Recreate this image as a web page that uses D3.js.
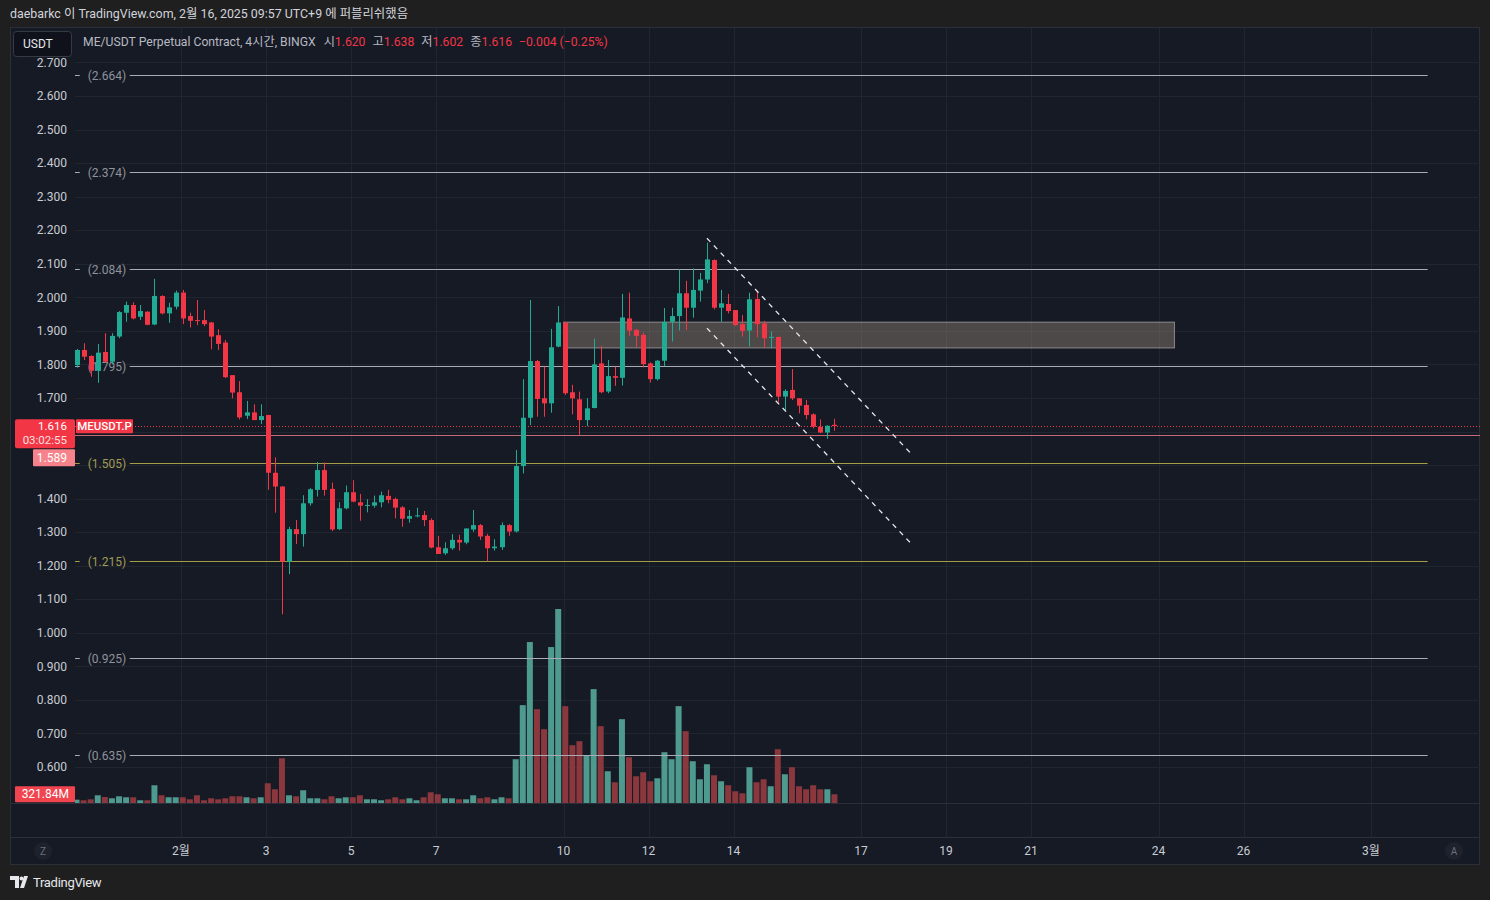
<!DOCTYPE html>
<html><head><meta charset="utf-8">
<script src="https://cdn.jsdelivr.net/npm/d3@7"></script>
<style>
html,body{margin:0;padding:0;background:#1f1f1f;}
svg{display:block;font-family:Roboto,"Noto Sans CJK KR",sans-serif;}
</style></head><body>
<svg id="c" width="1490" height="900"></svg>
<script>
// ---- data (times are KST, stored as UTC clock values) ----
const firstCandle = "2025-01-29T13:00:00Z";
const stepHours = 4;
const opens = [1.798,1.843,1.825,1.781,1.837,1.808,1.883,1.954,1.977,1.942,
1.957,1.919,2.004,1.952,1.972,2.014,1.944,1.932,1.932,1.925,
1.887,1.865,1.768,1.717,1.647,1.657,1.634,1.649,1.477,1.436,
1.212,1.309,1.294,1.386,1.426,1.485,1.429,1.309,1.371,1.419,
1.389,1.379,1.379,1.389,1.408,1.399,1.374,1.340,1.348,1.351,
1.336,1.255,1.237,1.252,1.277,1.269,1.308,1.321,1.289,1.252,
1.255,1.321,1.302,1.497,1.641,1.810,1.699,1.684,1.853,1.925,
1.717,1.696,1.634,1.670,1.803,1.719,1.765,1.760,1.937,1.903,
1.888,1.803,1.756,1.811,1.927,1.944,2.012,1.969,2.020,2.053,
2.111,1.969,1.980,1.962,1.920,1.901,1.995,1.922,1.879,1.882,
1.704,1.724,1.699,1.679,1.651,1.614,1.597,1.620];
const highs = [1.846,1.863,1.827,1.861,1.893,1.893,1.959,1.987,1.985,1.977,
1.959,2.055,2.006,1.984,2.020,2.022,1.954,1.992,1.962,1.927,
1.905,1.873,1.768,1.750,1.691,1.681,1.681,1.650,1.523,1.437,
1.316,1.336,1.410,1.431,1.509,1.508,1.448,1.389,1.439,1.455,
1.414,1.398,1.409,1.421,1.426,1.403,1.378,1.366,1.373,1.363,
1.341,1.289,1.270,1.294,1.292,1.311,1.366,1.324,1.295,1.279,
1.329,1.324,1.545,1.756,1.992,1.813,1.793,1.906,1.974,1.925,
1.739,1.719,1.699,1.876,1.855,1.813,1.793,2.010,2.014,1.905,
1.895,1.806,1.813,1.968,1.969,2.083,2.049,2.086,2.073,2.163,
2.113,2.022,2.010,1.962,1.947,2.014,2.015,1.930,1.898,1.882,
1.726,1.786,1.699,1.694,1.654,1.636,1.619,1.638];
const lows = [1.790,1.813,1.763,1.745,1.805,1.800,1.878,1.927,1.934,1.932,
1.917,1.917,1.949,1.924,1.964,1.920,1.910,1.917,1.914,1.845,
1.843,1.759,1.699,1.636,1.637,1.634,1.622,1.426,1.358,1.055,
1.175,1.265,1.257,1.379,1.406,1.409,1.303,1.306,1.368,1.389,
1.334,1.359,1.373,1.374,1.386,1.341,1.316,1.328,1.344,1.318,
1.252,1.235,1.232,1.247,1.245,1.264,1.301,1.277,1.213,1.245,
1.247,1.289,1.299,1.475,1.619,1.644,1.644,1.656,1.851,1.709,
1.651,1.590,1.616,1.669,1.714,1.714,1.736,1.737,1.885,1.851,
1.791,1.746,1.752,1.795,1.868,1.901,1.902,1.939,1.987,2.042,
1.964,1.927,1.952,1.915,1.883,1.853,1.881,1.850,1.848,1.686,
1.664,1.694,1.654,1.636,1.609,1.595,1.578,1.602];
const closes = [1.843,1.823,1.781,1.835,1.808,1.885,1.956,1.977,1.937,1.959,
1.918,2.004,1.952,1.970,2.014,1.937,1.930,1.929,1.920,1.883,
1.861,1.762,1.716,1.642,1.657,1.634,1.646,1.477,1.436,1.212,
1.309,1.294,1.386,1.428,1.485,1.426,1.308,1.371,1.419,1.391,
1.379,1.381,1.389,1.410,1.396,1.373,1.340,1.348,1.350,1.336,
1.254,1.235,1.252,1.277,1.269,1.311,1.321,1.287,1.252,1.257,
1.321,1.302,1.497,1.641,1.810,1.697,1.684,1.851,1.925,1.714,
1.699,1.634,1.669,1.800,1.717,1.765,1.760,1.940,1.901,1.885,
1.801,1.756,1.811,1.927,1.944,2.012,1.969,2.022,2.053,2.113,
1.969,1.982,1.959,1.917,1.900,1.994,1.920,1.878,1.882,1.704,
1.721,1.699,1.677,1.649,1.614,1.597,1.617,1.616];
// volume in millions
const volumes = [122,100,137,285,222,174,248,211,211,100,
100,655,285,211,211,211,137,285,100,174,
137,174,248,248,211,174,211,729,507,1654,
285,248,470,174,174,137,248,174,211,211,
285,137,137,100,137,211,137,174,100,211,
396,322,174,174,137,137,285,174,211,137,
211,174,1617,3615,5946,3467,2727,5761,7167,3578,
2135,2283,1765,4207,2838,1173,766,3097,1691,988,
1136,803,914,1876,1617,3578,2653,1543,877,1432,
1025,803,655,433,359,1321,766,877,618,1987,
1062,1321,618,507,655,507,507,321.84];

const priceTicks = [2.7,2.6,2.5,2.4,2.3,2.2,2.1,2.0,1.9,1.8,1.7,1.6,1.5,1.4,1.3,1.2,1.1,1.0,0.9,0.8,0.7,0.6];
const xTickDates = ["2025-02-01","2025-02-03","2025-02-05","2025-02-07","2025-02-10","2025-02-12","2025-02-14","2025-02-17","2025-02-19","2025-02-21","2025-02-24","2025-02-26","2025-03-01"];
const xTickLabels = ["2월","3","5","7","10","12","14","17","19","21","24","26","3월"];

const levelPrices = [2.664,2.374,2.084,1.795,1.505,1.215,0.925,0.635];
const levelLabels = ["(2.664)","(2.374)","(2.084)","(1.795)","(1.505)","(1.215)","(0.925)","(0.635)"];
const levelIsYellow = [false,false,false,false,true,true,false,false];
const levelSpan = ["2025-01-29T12:00:00Z","2025-03-02T08:00:00Z"];

const zoneTimes = ["2025-02-10T00:00:00Z","2025-02-24T09:00:00Z"];
const zonePrices = [1.926,1.849];

const channelTimes = ["2025-02-13T09:00:00Z","2025-02-18T05:00:00Z"];
const channelUpper = [2.176,1.530];
const channelLower = [1.908,1.262];

const lastPrice = 1.616;
const refPrice = 1.589;
const lastVolumeLabel = "321.84M";
const countdown = "03:02:55";
const legendValues = ["1.620","1.638","1.602","1.616"];
const legendKeys = ["시","고","저","종"];
const legendChange = "−0.004 (−0.25%)";

// ---- drawing ----
const svg = d3.select('#c');
const W = 1490, H = 900;
const plotL = 75, plotR = 1480, plotT = 58, plotB = 803, axisY = 837, frameB = 865;

const GREEN = '#22ab94', RED = '#f23645';
const VGREEN = '#4f9a8f', VRED = '#8b373e';

svg.append('rect').attr('width', W).attr('height', H).attr('fill', '#1f1f1f');
svg.append('rect').attr('x', 10.5).attr('y', 27.5).attr('width', 1469).attr('height', frameB - 28)
  .attr('fill', '#161a25').attr('stroke', '#2b2f3a');

const candleTime = i => new Date(Date.parse(firstCandle) + i * stepHours * 3600e3);
const x = d3.scaleUtc()
  .domain([new Date(Date.UTC(2025, 1, 1)), new Date(Date.UTC(2025, 2, 1))])
  .range([181, 1371]);
const y = d3.scaleLinear().domain([0.6, 2.6]).range([767, 96]);
const yv = d3.scaleLinear().domain([0, d3.max(volumes)]).range([plotB, 609]);

const defs = svg.append('defs');
defs.append('clipPath').attr('id', 'plotclip').append('rect')
  .attr('x', plotL).attr('y', plotT).attr('width', plotR - plotL).attr('height', plotB - plotT);
defs.append('clipPath').attr('id', 'axisclip').append('rect')
  .attr('x', 10).attr('y', plotT).attr('width', plotL - 10).attr('height', plotB - plotT);

// grid
const grid = svg.append('g');
grid.selectAll('line.h').data(priceTicks).join('line')
  .attr('x1', plotL).attr('x2', plotR)
  .attr('y1', d => Math.round(y(d)) + 0.5).attr('y2', d => Math.round(y(d)) + 0.5)
  .attr('stroke', '#21252f');
grid.selectAll('line.v').data(xTickDates).join('line')
  .attr('x1', d => Math.round(x(new Date(d + 'T00:00:00Z'))) + 0.5)
  .attr('x2', d => Math.round(x(new Date(d + 'T00:00:00Z'))) + 0.5)
  .attr('y1', 28).attr('y2', axisY)
  .attr('stroke', '#21252f');

// pane separators
svg.append('line').attr('x1', 10).attr('x2', plotR).attr('y1', plotB + 0.5).attr('y2', plotB + 0.5).attr('stroke', '#2b2f3a');
svg.append('line').attr('x1', 10).attr('x2', plotR).attr('y1', axisY + 0.5).attr('y2', axisY + 0.5).attr('stroke', '#2b2f3a');

const plotG = svg.append('g').attr('clip-path', 'url(#plotclip)');

// volume
plotG.append('g').selectAll('rect').data(volumes).join('rect')
  .attr('x', (d, i) => x(candleTime(i)) - 3)
  .attr('width', 6)
  .attr('y', d => yv(d))
  .attr('height', d => plotB - yv(d))
  .attr('fill', (d, i) => closes[i] >= opens[i] ? VGREEN : VRED);

// horizontal levels
const lvl = plotG.append('g');
const lx0 = x(new Date(levelSpan[0])), lx1 = x(new Date(levelSpan[1]));
levelPrices.forEach((p, k) => {
  const yy = Math.round(y(p)) + 0.5;
  const col = levelIsYellow[k] ? '#a39d45' : '#a9acb5';
  const tcol = levelIsYellow[k] ? '#a09b55' : '#8f929b';
  lvl.append('line').attr('x1', lx0).attr('x2', lx0 + 5).attr('y1', yy).attr('y2', yy).attr('stroke', col);
  lvl.append('line').attr('x1', lx0 + 55).attr('x2', lx1).attr('y1', yy).attr('y2', yy).attr('stroke', col);
  lvl.append('text').attr('x', lx0 + 13).attr('y', yy).attr('dy', '0.35em')
    .attr('fill', tcol).attr('font-size', 12).text(levelLabels[k]);
});

// reference solid line and last price dotted line
plotG.append('line').attr('x1', plotL).attr('x2', plotR)
  .attr('y1', Math.round(y(refPrice)) + 0.5).attr('y2', Math.round(y(refPrice)) + 0.5)
  .attr('stroke', '#c46a77');
plotG.append('line').attr('x1', plotL).attr('x2', plotR)
  .attr('y1', Math.round(y(lastPrice)) + 0.5).attr('y2', Math.round(y(lastPrice)) + 0.5)
  .attr('stroke', RED).attr('stroke-dasharray', '1,2');

// zone rectangle
plotG.append('rect')
  .attr('x', x(new Date(zoneTimes[0])))
  .attr('width', x(new Date(zoneTimes[1])) - x(new Date(zoneTimes[0])))
  .attr('y', y(zonePrices[0]))
  .attr('height', y(zonePrices[1]) - y(zonePrices[0]))
  .attr('fill', 'rgba(190,170,150,0.33)')
  .attr('stroke', 'rgba(200,195,190,0.6)').attr('stroke-width', 1);

// candles
const cg = plotG.append('g');
const idx = d3.range(opens.length);
cg.selectAll('line.w').data(idx).join('line')
  .attr('x1', i => Math.round(x(candleTime(i))) + 0.5)
  .attr('x2', i => Math.round(x(candleTime(i))) + 0.5)
  .attr('y1', i => y(highs[i])).attr('y2', i => y(lows[i]))
  .attr('stroke', i => closes[i] >= opens[i] ? GREEN : RED);
cg.selectAll('rect').data(idx).join('rect')
  .attr('x', i => Math.round(x(candleTime(i))) - 2)
  .attr('width', 5)
  .attr('y', i => y(Math.max(opens[i], closes[i])))
  .attr('height', i => Math.max(1, Math.abs(y(opens[i]) - y(closes[i]))))
  .attr('fill', i => closes[i] >= opens[i] ? GREEN : RED);

// channel dashed lines
[channelUpper, channelLower].forEach(ch => {
  plotG.append('line')
    .attr('x1', x(new Date(channelTimes[0]))).attr('y1', y(ch[0]))
    .attr('x2', x(new Date(channelTimes[1]))).attr('y2', y(ch[1]))
    .attr('stroke', '#e8e8ea').attr('stroke-width', 1.3).attr('stroke-dasharray', '5,5');
});

// left price axis labels (those hidden behind the last-price boxes are skipped)
const yl = y(lastPrice);
const visibleTicks = priceTicks.filter(d => y(d) < yl - 14 || y(d) > yl + 48);
const ax = svg.append('g').attr('clip-path', 'url(#axisclip)');
ax.selectAll('text').data(visibleTicks).join('text')
  .attr('x', 67).attr('y', d => y(d)).attr('dy', '0.35em')
  .attr('text-anchor', 'end').attr('fill', '#c9ccd3').attr('font-size', 12)
  .text(d => d.toFixed(3));

// last-price labels
const lp = svg.append('g');
lp.append('rect').attr('x', 15).attr('y', yl - 7).attr('width', 60).attr('height', 29).attr('rx', 2).attr('fill', RED);
lp.append('text').attr('x', 67).attr('y', yl).attr('dy', '0.33em').attr('text-anchor', 'end')
  .attr('fill', '#fff').attr('font-size', 11.5).text(lastPrice.toFixed(3));
lp.append('text').attr('x', 67).attr('y', yl + 14.5).attr('dy', '0.33em').attr('text-anchor', 'end')
  .attr('fill', '#fde0e2').attr('font-size', 11.5).text(countdown);
lp.append('rect').attr('x', plotL + 1).attr('y', yl - 7).attr('width', 57).attr('height', 14).attr('rx', 1).attr('fill', RED);
lp.append('text').attr('x', plotL + 29.5).attr('y', yl).attr('dy', '0.35em').attr('text-anchor', 'middle')
  .attr('fill', '#fff').attr('font-size', 11.5).attr('font-weight', 500).text('MEUSDT.P');
lp.append('rect').attr('x', 33).attr('y', yl + 23).attr('width', 42).attr('height', 17).attr('rx', 1).attr('fill', '#f6838b');
lp.append('text').attr('x', 67).attr('y', yl + 31.5).attr('dy', '0.35em').attr('text-anchor', 'end')
  .attr('fill', '#fff').attr('font-size', 12).text(refPrice.toFixed(3));
const yvl = yv(volumes[volumes.length - 1]);
lp.append('rect').attr('x', 15).attr('y', yvl - 8).attr('width', 60).attr('height', 16).attr('rx', 1).attr('fill', '#f0444f');
lp.append('text').attr('x', 69).attr('y', yvl).attr('dy', '0.35em').attr('text-anchor', 'end')
  .attr('fill', '#fff').attr('font-size', 12).text(lastVolumeLabel);

// time axis
const xa = svg.append('g');
xa.selectAll('text').data(xTickDates).join('text')
  .attr('x', d => x(new Date(d + 'T00:00:00Z'))).attr('y', 851).attr('dy', '0.35em')
  .attr('text-anchor', 'middle').attr('fill', '#c9ccd3').attr('font-size', 12)
  .text((d, i) => xTickLabels[i]);
[[43, 'Z'], [1454, 'A']].forEach(([cx, t]) => {
  xa.append('circle').attr('cx', cx).attr('cy', 851).attr('r', 9).attr('fill', '#1e222d');
  xa.append('text').attr('x', cx).attr('y', 851).attr('dy', '0.35em').attr('text-anchor', 'middle')
    .attr('fill', '#6b6f7a').attr('font-size', 10).text(t);
});

// header
svg.append('text').attr('x', 10).attr('y', 14).attr('dy', '0.35em').attr('fill', '#d1d4dc').attr('font-size', 12.4)
  .text('daebarkc 이 TradingView.com, 2월 16, 2025 09:57 UTC+9 에 퍼블리쉬했음');

// legend row
svg.append('rect').attr('x', 13.5).attr('y', 31.5).attr('width', 58).attr('height', 25).attr('rx', 3)
  .attr('fill', '#0f121a').attr('stroke', '#363a45');
svg.append('text').attr('x', 23).attr('y', 44).attr('dy', '0.35em').attr('fill', '#e6e8ec').attr('font-size', 12).text('USDT');
const lg = svg.append('text').attr('x', 83).attr('y', 41.5).attr('dy', '0.35em').attr('font-size', 12.2).attr('fill', '#b6b9c2');
lg.append('tspan').text('ME/USDT Perpetual Contract, 4시간, BINGX');
legendKeys.forEach((k, i) => {
  lg.append('tspan').attr('dx', i === 0 ? 8 : 7).attr('fill', '#b6b9c2').text(k);
  lg.append('tspan').attr('fill', RED).text(legendValues[i]);
});
lg.append('tspan').attr('dx', 7).attr('fill', RED).text(legendChange);

// footer logo
const logo = svg.append('g').attr('fill', '#e6e8ec');
logo.append('path').attr('d', 'M10 876 h9 v12 h-4 v-8 h-5 z');
logo.append('circle').attr('cx', 21.5).attr('cy', 878.5).attr('r', 2);
logo.append('path').attr('d', 'M24 876 h4 l-4 12 h-4 z');
svg.append('text').attr('x', 33).attr('y', 882).attr('dy', '0.35em').attr('fill', '#e6e8ec').attr('font-size', 13)
  .attr('letter-spacing', '-0.3').text('TradingView');
</script>
</body></html>
